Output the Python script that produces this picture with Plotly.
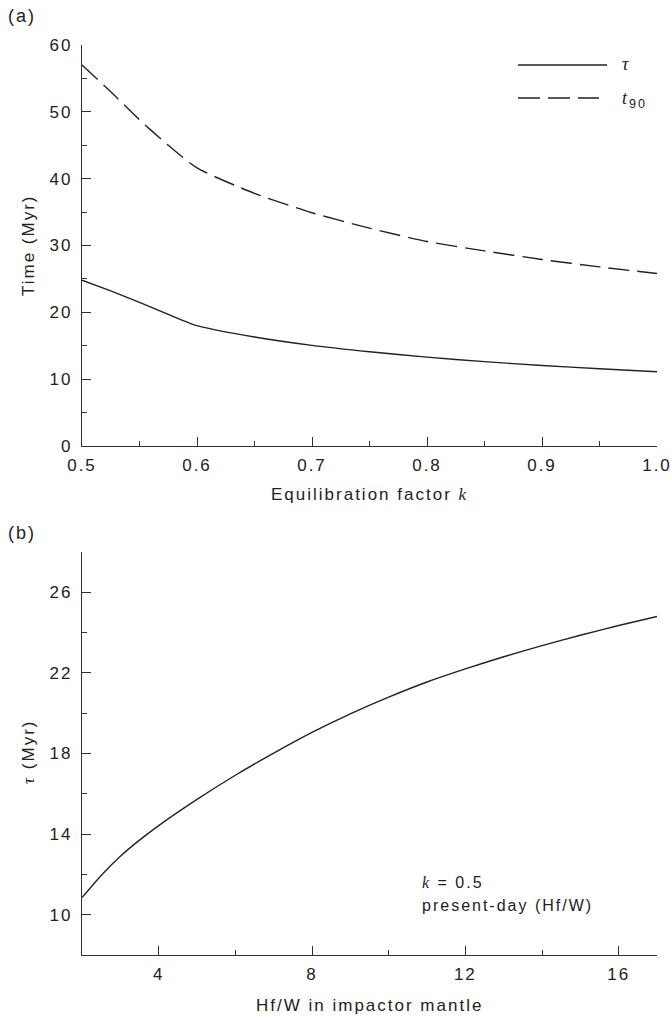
import plotly.graph_objects as go

# ---------------- data ----------------
k_vals = [0.5, 0.525, 0.55, 0.575, 0.6, 0.65, 0.7, 0.75, 0.8, 0.85, 0.9, 0.95, 1.0]
tau_a = [24.8, 23.2, 21.5, 19.7, 18.0, 16.3, 15.05, 14.1, 13.3, 12.62, 12.05, 11.55, 11.1]
t90_a = [57.0, 53.0, 48.8, 45.0, 41.6, 37.8, 34.9, 32.6, 30.6, 29.2, 27.9, 26.8, 25.8]

hfw = [2, 2.5, 3, 3.5, 4, 5, 6, 7, 8, 9, 10, 11, 12, 13, 14, 15, 16, 17]
tau_b = [10.85, 11.95, 12.9, 13.7, 14.42, 15.72, 16.92, 18.02, 19.05, 19.97, 20.8,
         21.55, 22.2, 22.8, 23.35, 23.87, 24.35, 24.8]

xa_ticks = [0.5, 0.6, 0.7, 0.8, 0.9, 1.0]
xa_minor = [0.55, 0.65, 0.75, 0.85, 0.95]
ya_ticks = [0, 10, 20, 30, 40, 50, 60]
ya_minor = [5, 15, 25, 35, 45, 55]
xb_ticks = [4, 8, 12, 16]
xb_minor = [6, 10, 14]
yb_ticks = [10, 14, 18, 22, 26]
yb_minor = [12, 16, 20, 24, 28]

# ---------------- styling ----------------
W, H = 671, 1018
INK = "#222222"
AX = "#333333"
FONT = "Liberation Sans, Arial, sans-serif"
SERIF = "Liberation Serif"


def px(x):
    return x / W


def py(y):
    return 1 - y / H


xdom = [px(82), px(657)]
ydom_a = [py(446), py(45)]
ydom_b = [py(955), py(552)]

fig = go.Figure()
fig.add_trace(go.Scatter(x=k_vals, y=tau_a, mode="lines", name="τ",
                         line=dict(color=INK, width=1.4, shape="spline", smoothing=0.6),
                         xaxis="x", yaxis="y", showlegend=False))
fig.add_trace(go.Scatter(x=k_vals, y=t90_a, mode="lines", name="t90",
                         line=dict(color=INK, width=1.4, dash="21px,8px", shape="spline", smoothing=0.6),
                         xaxis="x", yaxis="y", showlegend=False))
fig.add_trace(go.Scatter(x=hfw, y=tau_b, mode="lines", name="τ",
                         line=dict(color=INK, width=1.4, shape="spline", smoothing=0.6),
                         xaxis="x2", yaxis="y2", showlegend=False))

common = dict(showline=True, linecolor=AX, linewidth=1.4, ticks="inside", ticklen=9,
              tickwidth=1.3, tickcolor=AX, showgrid=False, zeroline=False,
              tickfont=dict(family=FONT, size=17, color=INK), automargin=False)
minor_common = dict(ticks="inside", ticklen=5, tickwidth=1.3, tickcolor=AX, showgrid=False)

fig.update_layout(
    width=W, height=H,
    margin=dict(l=0, r=0, t=0, b=0),
    paper_bgcolor="white", plot_bgcolor="white",
    font=dict(family=FONT, size=17, color=INK),
    xaxis=dict(domain=xdom, anchor="y", range=[0.5, 1.0], tickmode="array",
               tickvals=xa_ticks, ticktext=[f"{v:.1f}" for v in xa_ticks],
               minor=dict(tickmode="array", tickvals=xa_minor, **minor_common),
               ticklabelstandoff=3, **common),
    yaxis=dict(domain=ydom_a, anchor="x", range=[0, 60], tickmode="array",
               tickvals=ya_ticks,
               minor=dict(tickmode="array", tickvals=ya_minor, **minor_common),
               ticklabelstandoff=5, **common),
    xaxis2=dict(domain=xdom, anchor="y2", range=[2, 17], tickmode="array",
                tickvals=xb_ticks,
                minor=dict(tickmode="array", tickvals=xb_minor, **minor_common),
                ticklabelstandoff=3, **common),
    yaxis2=dict(domain=ydom_b, anchor="x2", range=[8, 28], tickmode="array",
                tickvals=yb_ticks,
                minor=dict(tickmode="array", tickvals=yb_minor, **minor_common),
                ticklabelstandoff=5, **common),
)

ann = []


def add_text(text, x, y, xanchor="center", angle=0, size=17):
    ann.append(dict(text=text, x=px(x), y=py(y), xref="paper", yref="paper",
                    xanchor=xanchor, yanchor="middle", showarrow=False, textangle=angle,
                    align="left" if xanchor == "left" else "center",
                    font=dict(family=FONT, size=size, color=INK)))


add_text("(a)", 6, 16, xanchor="left", size=18)
add_text("(b)", 6, 533, xanchor="left", size=18)
add_text("Time (Myr)", 28, 245, angle=-90)
add_text(f"Equilibration factor <span style='font-family:{SERIF}'><i>k</i></span>", 370, 494)
add_text(f"<span style='font-family:{SERIF}'><i>τ</i></span> (Myr)", 28, 752, angle=-90)
add_text("Hf/W in impactor mantle", 370, 1005)
add_text(f"<span style='font-family:{SERIF}'><i>k</i></span> = 0.5", 420, 882, xanchor="left", size=16)
add_text("present-day (Hf/W)", 420, 905, xanchor="left", size=16)
# legend labels
add_text(f"<span style='font-family:{SERIF}'><i>τ</i></span>", 620, 64, xanchor="left", size=18)
add_text(f"<span style='font-family:{SERIF}'><i>t</i></span><sub>90</sub>", 620, 99, xanchor="left", size=18)

fig.update_layout(annotations=ann)

fig.add_shape(type="line", xref="paper", yref="paper", x0=px(518), x1=px(607),
              y0=py(65), y1=py(65), line=dict(color=INK, width=1.4))
fig.add_shape(type="line", xref="paper", yref="paper", x0=px(518), x1=px(599),
              y0=py(98), y1=py(98), line=dict(color=INK, width=1.4, dash="22px,8px"))

post = ("document.querySelectorAll('svg text').forEach(function(t){"
        "t.style.letterSpacing='2px';});")
fig.write_html("out.html", post_script=post)
